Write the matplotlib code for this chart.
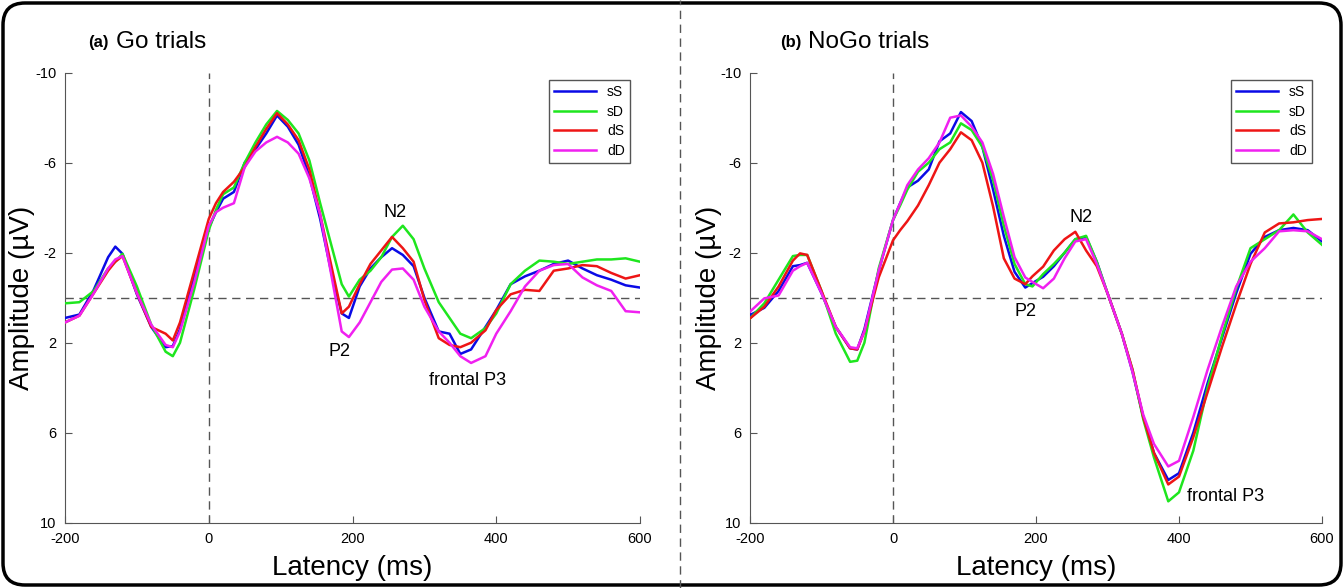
import numpy as np
import matplotlib
matplotlib.use('Agg')
import matplotlib.pyplot as plt
from matplotlib.patches import FancyBboxPatch
from matplotlib.lines import Line2D

plt.rcParams['font.family'] = ['Liberation Sans', 'DejaVu Sans']
plt.rcParams['axes.unicode_minus'] = False

# latency grid (ms)
t = np.array([-200, -180, -160, -140, -130, -120, -100, -80, -60, -50, -40, -20, 0, 10, 20, 35, 50, 65,
              80, 95, 110, 125, 140, 155, 170, 185, 195, 210, 225, 240, 255, 270, 285, 300, 320, 335,
              350, 365, 385, 400, 420, 440, 460, 480, 500, 520, 540, 560, 580, 600])

labels = ['sS', 'sD', 'dS', 'dD']
colors = ['#0a0ae6', '#1ee61e', '#ee1515', '#f020f0']

# (a) Go trials, amplitude in uV
go_sS = [0.9, 0.75, -0.35, -1.8, -2.27, -1.95, -0.15, 1.3, 2.2, 2.15, 1.4, -1.0, -3.1, -3.8, -4.4, -4.7, -6.0, -6.6,
         -7.3, -8.1, -7.6, -6.8, -5.4, -3.5, -1.2, 0.7, 0.9, -0.5, -1.3, -1.8, -2.2, -1.9, -1.4, 0.0, 1.5, 1.6,
         2.5, 2.3, 1.3, 0.55, -0.6, -0.95, -1.2, -1.5, -1.65, -1.3, -1.0, -0.8, -0.55, -0.45]
go_sD = [0.25, 0.2, -0.3, -1.3, -1.6, -1.95, -0.5, 1.2, 2.4, 2.6, 2.0, -0.4, -3.0, -3.9, -4.6, -4.9, -6.0, -6.9,
         -7.7, -8.3, -7.9, -7.3, -6.1, -4.2, -2.4, -0.6, -0.05, -0.8, -1.2, -1.8, -2.7, -3.2, -2.6, -1.3, 0.2, 0.9,
         1.6, 1.8, 1.35, 0.7, -0.6, -1.2, -1.65, -1.6, -1.5, -1.6, -1.7, -1.7, -1.75, -1.6]
go_dS = [1.1, 0.8, -0.2, -1.2, -1.6, -1.85, -0.2, 1.3, 1.6, 1.9, 1.1, -1.2, -3.5, -4.2, -4.7, -5.15, -5.8, -6.7,
         -7.5, -8.2, -7.7, -7.0, -5.7, -3.7, -1.5, 0.7, 0.4, -0.6, -1.5, -2.1, -2.7, -2.2, -1.6, 0.1, 1.8, 2.1,
         2.2, 2.0, 1.45, 0.55, -0.15, -0.35, -0.3, -1.2, -1.3, -1.45, -1.4, -1.1, -0.85, -1.0]
go_dD = [1.1, 0.8, -0.2, -1.3, -1.7, -1.85, -0.2, 1.2, 2.1, 2.2, 1.5, -0.7, -3.2, -3.8, -4.0, -4.2, -5.8, -6.5,
         -6.9, -7.15, -6.9, -6.4, -5.3, -3.7, -1.1, 1.5, 1.75, 1.1, 0.2, -0.7, -1.25, -1.3, -0.8, 0.4, 1.5, 2.0,
         2.6, 2.9, 2.6, 1.6, 0.6, -0.5, -1.2, -1.45, -1.5, -0.9, -0.55, -0.3, 0.6, 0.65]

# (b) NoGo trials, amplitude in uV
nogo_sS = [0.77, 0.45, -0.3, -1.4, -1.45, -1.55, -0.2, 1.3, 2.25, 2.3, 1.4, -1.2, -3.45, -4.2, -4.9, -5.2, -5.7, -6.95,
           -7.3, -8.25, -7.85, -6.7, -4.8, -2.75, -1.15, -0.45, -0.65, -0.93, -1.4, -2.0, -2.6, -2.7, -1.6, -0.2, 1.6, 3.3,
           5.3, 6.9, 8.1, 7.8, 6.0, 3.8, 1.8, -0.2, -1.95, -2.7, -3.0, -3.1, -3.0, -2.5]
nogo_sD = [0.92, 0.25, -0.8, -1.85, -1.9, -1.9, -0.3, 1.6, 2.85, 2.8, 2.0, -1.3, -3.45, -4.1, -4.8, -5.6, -6.0, -6.6,
           -6.9, -7.75, -7.45, -6.7, -5.23, -3.2, -1.5, -0.6, -0.5, -1.05, -1.5, -2.0, -2.6, -2.75, -1.6, -0.2, 1.6, 3.2,
           5.4, 7.1, 9.05, 8.65, 6.8, 4.0, 1.7, -0.4, -2.2, -2.6, -3.0, -3.7, -2.9, -2.35]
nogo_dS = [0.92, 0.4, -0.5, -1.65, -1.97, -1.9, -0.3, 1.3, 2.25, 2.3, 1.5, -0.9, -2.55, -3.0, -3.4, -4.1, -5.0, -6.0,
           -6.6, -7.35, -7.0, -6.0, -4.05, -1.75, -0.85, -0.6, -0.95, -1.38, -2.1, -2.6, -2.93, -2.1, -1.4, -0.2, 1.6, 3.2,
           5.3, 6.9, 8.3, 7.95, 6.2, 4.2, 2.2, 0.3, -1.5, -2.9, -3.3, -3.35, -3.45, -3.5]
nogo_dD = [0.62, 0.03, -0.1, -1.2, -1.4, -1.55, -0.2, 1.3, 2.2, 2.25, 1.5, -1.2, -3.45, -4.2, -5.0, -5.7, -6.2, -6.9,
           -8.0, -8.1, -7.6, -6.9, -5.5, -3.6, -1.8, -0.9, -0.7, -0.42, -0.85, -1.75, -2.5, -2.6, -1.5, -0.2, 1.6, 3.3,
           5.2, 6.5, 7.5, 7.25, 5.3, 3.2, 1.3, -0.5, -1.6, -2.2, -2.95, -3.0, -2.95, -2.6]

go = [go_sS, go_sD, go_dS, go_dD]
nogo = [nogo_sS, nogo_sD, nogo_dS, nogo_dD]

fig = plt.figure(figsize=(13.44, 5.88), dpi=100)
ax1 = fig.add_axes([65/1344, 65.3/588, 575/1344, 450/588])
ax2 = fig.add_axes([750/1344, 65.3/588, 572/1344, 450/588])


def draw_panel(ax, series, ylab_x):
    ax.axhline(0, color='#555555', lw=1, ls=(0, (6, 4)), zorder=1)
    ax.axvline(0, color='#555555', lw=1, ls=(0, (6, 4)), zorder=1)
    for y, c, lab in zip(series, colors, labels):
        ax.plot(t, y, color=c, lw=1.8, label=lab, zorder=3, solid_joinstyle='round')
    ax.set_xlim(-200, 600)
    ax.set_ylim(10, -10)
    ax.set_xticks([-200, 0, 200, 400, 600])
    ax.set_yticks([-10, -6, -2, 2, 6, 10])
    ax.tick_params(direction='in', length=5, labelsize=10.5, color='#555555')
    ax.tick_params(axis='x', pad=7)
    ax.tick_params(axis='y', pad=6)
    ax.spines[['top', 'right']].set_visible(False)
    for s in ['left', 'bottom']:
        ax.spines[s].set_color('#555555')
    ax.set_ylabel('Amplitude (\u00b5V)', fontsize=20)
    ax.set_xlabel('Latency (ms)', fontsize=20)
    ax.yaxis.set_label_coords(ylab_x, 0.5)
    ax.xaxis.set_label_coords(0.5, -0.072)
    ax.legend(loc='upper right', bbox_to_anchor=(0.995, 1.0), fontsize=10, handlelength=3.0,
              labelspacing=0.4, handletextpad=0.8, borderpad=0.4, fancybox=False,
              edgecolor='#555555', framealpha=1)


draw_panel(ax1, go, -0.052)
draw_panel(ax2, nogo, -0.049)

ann = 13
ax1.text(259, -3.8, 'N2', fontsize=ann, ha='center', va='center')
ax1.text(182, 2.4, 'P2', fontsize=ann, ha='center', va='center')
ax1.text(360, 3.7, 'frontal P3', fontsize=ann, ha='center', va='center')
ax2.text(263, -3.55, 'N2', fontsize=ann, ha='center', va='center')
ax2.text(186, 0.6, 'P2', fontsize=ann, ha='center', va='center')
ax2.text(411, 8.85, 'frontal P3', fontsize=ann, ha='left', va='center')

# panel titles
fig.text(88/1344, 1 - 43/588, '(a)', fontsize=12, fontweight='bold', va='center')
fig.text(116/1344, 1 - 42/588, 'Go trials', fontsize=17.5, va='center')
fig.text(780/1344, 1 - 43/588, '(b)', fontsize=12, fontweight='bold', va='center')
fig.text(808/1344, 1 - 42/588, 'NoGo trials', fontsize=17.5, va='center')

# separator and rounded frame
fig.add_artist(Line2D([680/1344, 680/1344], [0, 1], transform=fig.transFigure,
                      color='#555555', lw=1, ls=(0, (6, 4))))
fig.add_artist(FancyBboxPatch((3, 3), 1338, 582, boxstyle='round,pad=0,rounding_size=22',
                              transform=None, fill=False, lw=2.5, edgecolor='black'))

fig.savefig('out.png', dpi=100)
